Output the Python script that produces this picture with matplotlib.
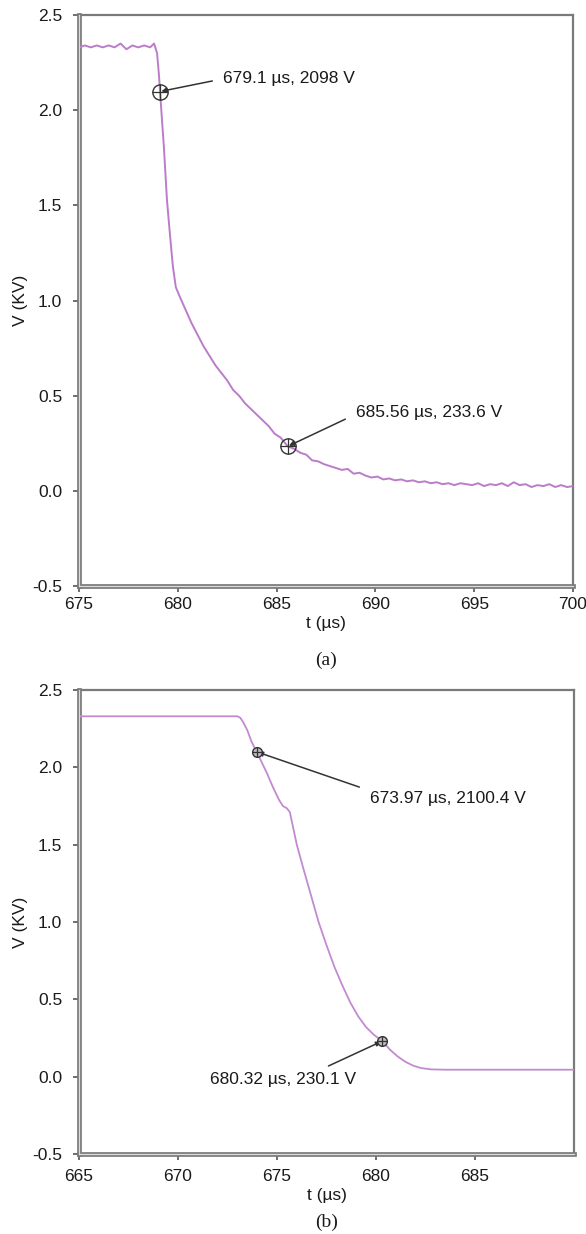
import numpy as np
import matplotlib.pyplot as plt

t_a = [675.0, 675.3, 675.6, 675.9, 676.2, 676.5, 676.8, 677.1, 677.4, 677.7,
       678.0, 678.3, 678.6, 678.8, 678.95, 679.05, 679.1, 679.3, 679.45, 679.6,
       679.75, 679.9, 680.1, 680.4, 680.7, 681.0, 681.3, 681.6, 681.9, 682.2,
       682.5, 682.8, 683.1, 683.4, 683.7, 684.0, 684.3, 684.6, 684.9, 685.2,
       685.56, 685.9, 686.2, 686.5, 686.8, 687.1, 687.4, 687.7, 688.0, 688.3,
       688.6, 688.9, 689.2, 689.5, 689.8, 690.1, 690.4, 690.7, 691.0, 691.3,
       691.6, 691.9, 692.2, 692.5, 692.8, 693.1, 693.4, 693.7, 694.0, 694.3,
       694.6, 694.9, 695.2, 695.5, 695.8, 696.1, 696.4, 696.7, 697.0, 697.3,
       697.6, 697.9, 698.2, 698.5, 698.8, 699.1, 699.4, 699.7, 700.0]
v_a = [2.33, 2.34, 2.33, 2.34, 2.33, 2.34, 2.33, 2.35, 2.32, 2.34,
       2.33, 2.34, 2.33, 2.35, 2.30, 2.18, 2.098, 1.80, 1.53, 1.35,
       1.18, 1.07, 1.02, 0.95, 0.88, 0.82, 0.76, 0.71, 0.66, 0.62,
       0.58, 0.53, 0.50, 0.46, 0.43, 0.40, 0.37, 0.34, 0.30, 0.28,
       0.234, 0.22, 0.20, 0.19, 0.16, 0.155, 0.14, 0.13, 0.12, 0.11,
       0.115, 0.09, 0.095, 0.08, 0.07, 0.075, 0.06, 0.065, 0.055, 0.06,
       0.05, 0.055, 0.045, 0.05, 0.04, 0.045, 0.035, 0.04, 0.03, 0.04,
       0.035, 0.03, 0.04, 0.025, 0.035, 0.03, 0.04, 0.025, 0.045, 0.03,
       0.035, 0.02, 0.03, 0.025, 0.035, 0.02, 0.03, 0.02, 0.025]

# (b) simulated trace
t_b = [665.0, 670.0, 673.0, 673.15, 673.3, 673.5, 673.7, 673.97, 674.2, 674.5,
       674.8, 675.1, 675.3, 675.5, 675.65, 675.8, 676.0, 676.3, 676.7, 677.1,
       677.5, 677.9, 678.3, 678.7, 679.1, 679.5, 679.9, 680.32, 680.7, 681.1,
       681.5, 681.9, 682.3, 682.8, 683.5, 686.0, 690.0]
v_b = [2.33, 2.33, 2.33, 2.32, 2.29, 2.24, 2.17, 2.1004, 2.04, 1.96,
       1.87, 1.79, 1.75, 1.735, 1.71, 1.62, 1.50, 1.36, 1.18, 1.00,
       0.85, 0.71, 0.59, 0.48, 0.39, 0.32, 0.27, 0.2301, 0.175, 0.13,
       0.095, 0.07, 0.055, 0.047, 0.045, 0.045, 0.045]

# annotated points: (t, V in kV, label, text x, text y)
marks_a = [(679.1, 2.098, '679.1 µs, 2098 V', 682.3, 2.165),
           (685.56, 0.2336, '685.56 µs, 233.6 V', 689.0, 0.41)]
marks_b = [(673.97, 2.1004, '673.97 µs, 2100.4 V', 679.7, 1.80),
           (680.32, 0.2301, '680.32 µs, 230.1 V', 671.6, -0.02)]

plt.rcParams['font.family'] = ['Liberation Sans', 'DejaVu Sans']
line_col = '#bb7cc9'
frame_col = '#7a7a7a'

fig = plt.figure(figsize=(5.86, 12.34), dpi=100)
ax1 = fig.add_axes([79/586, 1-586/1234, (573-79)/586, (586-15)/1234])
ax2 = fig.add_axes([79/586, 1-1154/1234, (574-79)/586, (1154-690)/1234])


def style(ax, xlim, xticks, tickpad):
    ax.set_xlim(*xlim)
    ax.set_ylim(-0.5, 2.5)
    ax.set_xticks(xticks)
    ax.set_yticks([-0.5, 0.0, 0.5, 1.0, 1.5, 2.0, 2.5])
    ax.set_yticklabels(['-0.5', '0.0', '0.5', '1.0', '1.5', '2.0', '2.5'])
    for s in ['left', 'bottom']:
        ax.spines[s].set_linewidth(3.4)
        ax.spines[s].set_color(frame_col)
    for s in ['top', 'right']:
        ax.spines[s].set_linewidth(1.6)
        ax.spines[s].set_color(frame_col)
    # light gap inside the thick frame, gives the double-line look
    ax.plot([0, 0], [0, 1], transform=ax.transAxes, color='#dcdcdc', lw=0.9,
            clip_on=False, zorder=6)
    ax.plot([0, 1], [0, 0], transform=ax.transAxes, color='#dcdcdc', lw=0.9,
            clip_on=False, zorder=6)
    ax.tick_params(axis='both', direction='out', length=4, width=1.2,
                   color='#555555', labelsize=12.5, labelcolor='#1a1a1a')
    ax.tick_params(axis='y', pad=8)
    ax.tick_params(axis='x', pad=tickpad)
    ax.set_xlabel('t (µs)', fontsize=12.5, color='#1a1a1a', labelpad=3)
    ax.set_ylabel('V (KV)', fontsize=12.5, color='#1a1a1a')
    ax.yaxis.set_label_coords(-0.103, 0.5)


def mark(ax, pts, size, fill, relpos):
    for (t, v, lab, tx, ty), rp in zip(pts, relpos):
        ax.plot(t, v, 'o', ms=size, mfc=fill, mec='#333333', mew=1.0, zorder=4)
        ax.plot(t, v, '+', ms=size, mec='#333333', mew=0.9, zorder=5)
        ax.annotate(lab, xy=(t, v), xytext=(tx, ty), fontsize=12.5,
                    color='#1a1a1a', ha='left', va='center',
                    arrowprops=dict(arrowstyle='-|>', color='#333333', lw=1.1,
                                    mutation_scale=7, relpos=rp,
                                    shrinkA=6, shrinkB=1))


ax1.plot(t_a, v_a, color=line_col, lw=1.4, zorder=3)
style(ax1, (675, 700), [675, 680, 685, 690, 695, 700], 4)
mark(ax1, marks_a, 11, 'none', [(0, 0.5), (0, 0.4)])

ax2.plot(t_b, v_b, color='#c28bd0', lw=1.3, zorder=3)
style(ax2, (665, 690), [665, 670, 675, 680, 685], 7)
mark(ax2, marks_b, 7, '#bdbdbd', [(0, 1.0), (0.72, 1.0)])

fig.text(ax1.get_position().x0 + ax1.get_position().width/2, 1-660/1234, '(a)',
         family=['Liberation Serif', 'DejaVu Serif'], fontsize=14,
         ha='center', va='center', color='#1a1a1a')
fig.text(ax2.get_position().x0 + ax2.get_position().width/2, 1-1222/1234, '(b)',
         family=['Liberation Serif', 'DejaVu Serif'], fontsize=14,
         ha='center', va='center', color='#1a1a1a')

fig.savefig('out.png', dpi=100)
